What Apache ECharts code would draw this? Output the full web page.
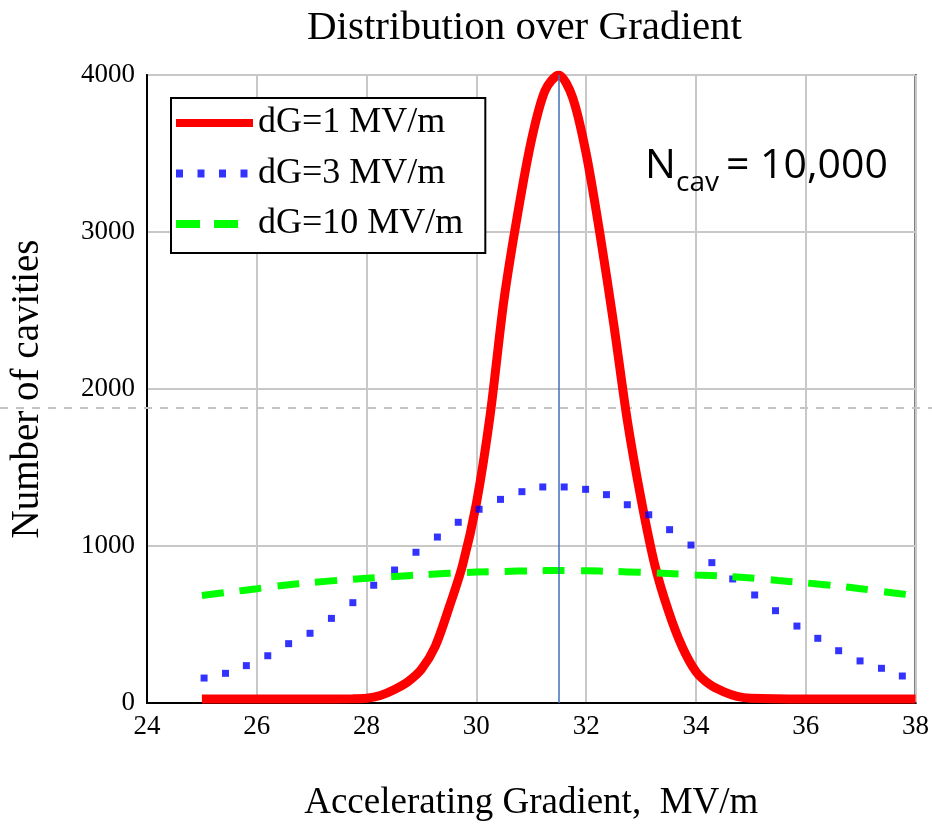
<!DOCTYPE html>
<html>
<head>
<meta charset="utf-8">
<script src="https://cdn.jsdelivr.net/npm/echarts@6/dist/echarts.min.js"></script>
<style>
  html, body { margin: 0; background: #fff; }
  #chart { width: 932px; height: 827px; }
</style>
</head>
<body>
<div id="chart"></div>
<script>
// Distribution over Gradient, N_cav = 10,000
const seriesNames = ['dG=1 MV/m', 'dG=3 MV/m', 'dG=10 MV/m'];
const meanGradient = 31.5;

// dG = 1 MV/m (solid red)
const redCurve = [
  [25, 25], [26, 25], [27, 25], [27.75, 27], [28, 30], [28.25, 48], [28.5, 85],
  [28.75, 135], [29, 215], [29.25, 360], [29.5, 605], [29.75, 880], [30, 1270],
  [30.25, 1830], [30.5, 2560], [30.75, 3110], [31, 3580], [31.25, 3900], [31.5, 4000],
  [31.75, 3860], [32, 3500], [32.25, 2990], [32.5, 2420], [32.75, 1800], [33, 1300],
  [33.25, 880], [33.5, 585], [33.75, 357], [34, 200], [34.25, 118], [34.5, 72],
  [34.75, 42], [35, 30], [36, 25], [37, 25], [38, 25]
];

// dG = 3 MV/m (blue dots)
const blueDots = [
  [25.04, 159], [25.43, 189], [25.81, 238], [26.2, 301], [26.58, 378], [26.97, 444],
  [27.36, 539], [27.75, 639], [28.13, 750], [28.51, 847], [28.9, 960], [29.29, 1057],
  [29.67, 1151], [30.05, 1234], [30.44, 1297], [30.83, 1346], [31.21, 1376], [31.6, 1376],
  [31.99, 1361], [32.37, 1327], [32.75, 1263], [33.14, 1199], [33.52, 1104], [33.91, 1006],
  [34.29, 894], [34.67, 790], [35.07, 688], [35.45, 588], [35.84, 490], [36.22, 412],
  [36.6, 333], [36.99, 268], [37.38, 221], [37.76, 172]
];

// dG = 10 MV/m (green dashes)
const greenCurve = [
  [25, 685], [25.5, 706], [26, 728], [26.5, 750], [27, 767], [27.5, 782], [28, 795],
  [28.5, 806], [29, 816], [29.5, 826], [30, 834], [30.5, 838], [31, 842], [31.5, 844],
  [32, 842], [32.5, 838], [33, 832], [33.5, 825], [34, 816], [34.5, 808], [35, 796],
  [35.5, 780], [36, 765], [36.5, 748], [37, 728], [37.5, 705], [38, 685]
];

const SERIF = '"Liberation Serif", "Times New Roman", serif';
const txt = { color: '#000', fontFamily: SERIF };

const chart = echarts.init(document.getElementById('chart'));
chart.setOption({
  animation: false,
  backgroundColor: '#fff',
  title: {
    text: 'Distribution over Gradient',
    left: 307, top: 8, padding: 0,
    textStyle: { ...txt, fontSize: 41, fontWeight: 'normal' }
  },
  grid: {
    left: 147, right: 15, top: 75, bottom: 124,
    show: true, borderColor: '#000', borderWidth: 2, backgroundColor: 'transparent'
  },
  legend: {
    orient: 'vertical',
    left: 171, top: 98,
    padding: [7, 22, 11, 5],
    itemWidth: 77, itemHeight: 8,
    itemGap: 14.5, itemTextGap: 10,
    backgroundColor: '#fff', borderColor: '#000', borderWidth: 2,
    textStyle: { ...txt, fontSize: 36 },
    selectedMode: false,
    data: [
      { name: seriesNames[0], icon: 'path://M0,0h77v8h-77z' },
      { name: seriesNames[1], icon: 'path://M0,0h7v8h-7z M21.5,0h7v8h-7z M43,0h7v8h-7z M64.5,0h7v8h-7z M76.9,7.9h0.1v0.1h-0.1z' },
      { name: seriesNames[2], icon: 'path://M0,0h24v8h-24z M38,0h24v8h-24z M76.9,7.9h0.1v0.1h-0.1z' }
    ]
  },
  xAxis: {
    type: 'value', min: 24, max: 38, interval: 2,
    name: 'Accelerating Gradient,  MV/m',
    nameLocation: 'middle', nameGap: 82,
    nameTextStyle: { ...txt, fontSize: 37 },
    axisLine: { lineStyle: { color: '#000', width: 2 } },
    axisTick: { show: false },
    axisLabel: { ...txt, fontSize: 27, margin: 10 },
    splitLine: { lineStyle: { color: '#c8c8c8', width: 2 } }
  },
  yAxis: {
    type: 'value', min: 0, max: 4000, interval: 1000,
    name: 'Number of cavities',
    nameLocation: 'middle', nameGap: 100,
    nameTextStyle: { ...txt, fontSize: 39 },
    axisLine: { lineStyle: { color: '#000', width: 2 } },
    axisTick: { show: false },
    axisLabel: { ...txt, fontSize: 27, margin: 12, formatter: v => String(v) },
    splitLine: { lineStyle: { color: '#c8c8c8', width: 2 } }
  },
  series: [
    {
      name: seriesNames[0], type: 'line', data: redCurve,
      symbol: 'none', smooth: 0.3, z: 2,
      lineStyle: { color: '#ff0000', width: 9 },
      itemStyle: { color: '#ff0000' }
    },
    {
      name: seriesNames[1], type: 'scatter', data: blueDots,
      symbol: 'rect', symbolSize: 7, z: 3,
      itemStyle: { color: '#0000ff' }
    },
    {
      name: seriesNames[2], type: 'line', data: greenCurve,
      symbol: 'none', smooth: 0.3, z: 4,
      lineStyle: { color: '#00ff00', width: 7, type: [22, 16] },
      itemStyle: { color: '#00ff00' },
      markLine: {
        silent: true, symbol: 'none', animation: false,
        label: { show: false },
        lineStyle: { color: '#3f6fb8', width: 1.5, type: 'solid' },
        data: [{ xAxis: meanGradient }]
      }
    }
  ],
  graphic: [
    {
      type: 'line', z: 1, silent: true,
      shape: { x1: 0, y1: 408, x2: 932, y2: 408 },
      style: { stroke: '#c4c4c4', lineWidth: 2, lineDash: [8, 8] }
    },
    {
      type: 'text', z: 10, x: 645, y: 166,
      style: { text: 'N', font: '41px "Open Sans"', fill: '#000', verticalAlign: 'middle' }
    },
    {
      type: 'text', z: 10, x: 676, y: 183,
      style: { text: 'cav', font: '28px "Open Sans"', fill: '#000', verticalAlign: 'middle' }
    },
    {
      type: 'text', z: 10, x: 726, y: 166,
      style: { text: '= 10,000', font: '41px "Open Sans"', fill: '#000', verticalAlign: 'middle' }
    }
  ]
});
</script>
</body>
</html>
